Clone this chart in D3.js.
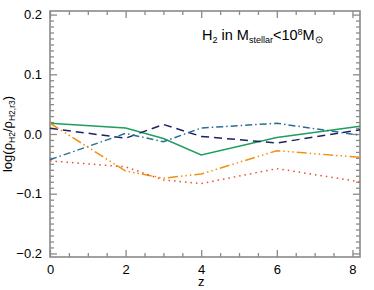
<!DOCTYPE html>
<html>
<head>
<meta charset="utf-8">
<script src="https://cdn.jsdelivr.net/npm/d3@7"></script>
<style>
  body { margin: 0; background: #fff; }
  svg text { font-family: 'Liberation Sans', Arial, sans-serif; fill: #000; }
</style>
</head>
<body>
<div id="chart"></div>
<script>
// redshifts and log ratios
let redshift = [0, 2, 3, 4, 6, 8.2]
let solidGreen = [0.018, 0.010, -0.0075, -0.035, -0.006, 0.013]
let dashedNavy = [0.0095, -0.007, 0.016, -0.004, -0.015, 0.007]
let dashDotTeal = [-0.043, 0.001, -0.013, 0.010, 0.018, -0.002]
let dashDotsOrange = [0.018, -0.062, -0.074, -0.067, -0.028, -0.039]
let dottedRed = [-0.045, -0.055, -0.077, -0.083, -0.058, -0.080]

let xMajor = [0, 2, 4, 6, 8]
let yMajor = [-0.2, -0.1, 0.0, 0.1, 0.2]

let series = [
  { name: 'green', values: solidGreen, color: '#1f9e5c', dash: null },
  { name: 'navy', values: dashedNavy, color: '#1c2262', dash: '8,5' },
  { name: 'teal', values: dashDotTeal, color: '#2a6f8f', dash: '7,3,1.5,3' },
  { name: 'orange', values: dashDotsOrange, color: '#f29015', dash: '10,3,1.5,3,1.5,3,1.5,3' },
  { name: 'red', values: dottedRed, color: '#e5532b', dash: '1.5,4' }
]

let margin = { top: 11, left: 50, right: 14, bottom: 33 }
let width = 374 - margin.left - margin.right
let height = 290 - margin.top - margin.bottom

let svg = d3
  .select('#chart')
  .append('svg')
  .attr('width', 374)
  .attr('height', 290)
  .append('g')
  .attr('transform', 'translate(' + margin.left + ',' + margin.top + ')')

let xPositionScale = d3.scaleLinear().domain([0, 8.2]).range([0, width])
let yPositionScale = d3.scaleLinear().domain([-0.206, 0.206]).range([height, 0])

let xMinor = d3.range(0, 8.21, 0.5).filter(d => xMajor.indexOf(d) === -1)
let yMinor = d3.range(-20, 21, 1).map(d => d / 100).filter(d => Math.round(d * 100) % 10 !== 0)

let axisColor = '#8a8a8a'

function styleAxis(g) {
  g.select('.domain').remove()
  g.selectAll('line').attr('stroke', axisColor).attr('stroke-width', 1.3)
  g.selectAll('text').attr('font-size', 13).attr('fill', '#000')
}

// bottom axis
svg.append('g')
  .attr('transform', 'translate(0,' + height + ')')
  .call(d3.axisBottom(xPositionScale).tickValues(xMajor).tickSizeInner(-7).tickSizeOuter(0).tickPadding(8).tickFormat(d3.format('d')))
  .call(styleAxis)
svg.append('g')
  .attr('transform', 'translate(0,' + height + ')')
  .call(d3.axisBottom(xPositionScale).tickValues(xMinor).tickSizeInner(-4).tickSizeOuter(0).tickFormat(''))
  .call(styleAxis)
// top axis
svg.append('g')
  .call(d3.axisTop(xPositionScale).tickValues(xMajor).tickSizeInner(-7).tickSizeOuter(0).tickFormat(''))
  .call(styleAxis)
svg.append('g')
  .call(d3.axisTop(xPositionScale).tickValues(xMinor).tickSizeInner(-4).tickSizeOuter(0).tickFormat(''))
  .call(styleAxis)
// left axis
svg.append('g')
  .call(d3.axisLeft(yPositionScale).tickValues(yMajor).tickSizeInner(-7).tickSizeOuter(0).tickPadding(8).tickFormat(d3.format('.1f')))
  .call(styleAxis)
svg.append('g')
  .call(d3.axisLeft(yPositionScale).tickValues(yMinor).tickSizeInner(-4).tickSizeOuter(0).tickFormat(''))
  .call(styleAxis)
// right axis
svg.append('g')
  .attr('transform', 'translate(' + width + ',0)')
  .call(d3.axisRight(yPositionScale).tickValues(yMajor).tickSizeInner(-7).tickSizeOuter(0).tickFormat(''))
  .call(styleAxis)
svg.append('g')
  .attr('transform', 'translate(' + width + ',0)')
  .call(d3.axisRight(yPositionScale).tickValues(yMinor).tickSizeInner(-4).tickSizeOuter(0).tickFormat(''))
  .call(styleAxis)

// frame
svg.append('rect')
  .attr('x', 0)
  .attr('y', 0)
  .attr('width', width)
  .attr('height', height)
  .attr('fill', 'none')
  .attr('stroke', axisColor)
  .attr('stroke-width', 1.6)

let line = d3
  .line()
  .x((d, i) => xPositionScale(redshift[i]))
  .y(d => yPositionScale(d))

svg.selectAll('.ratio')
  .data(series)
  .enter()
  .append('path')
  .attr('class', d => 'ratio ' + d.name)
  .attr('d', d => line(d.values))
  .attr('fill', 'none')
  .attr('stroke', d => d.color)
  .attr('stroke-width', 1.5)
  .attr('stroke-dasharray', d => d.dash)

// title inside the panel
let title = svg.append('text')
  .attr('x', 152)
  .attr('y', 29)
  .attr('font-size', 14.5)
title.append('tspan').text('H')
title.append('tspan').attr('font-size', 9).attr('dy', 3).text('2')
title.append('tspan').attr('dy', -3).text(' in M')
title.append('tspan').attr('font-size', 9).attr('dy', 3).text('stellar')
title.append('tspan').attr('dy', -3).text('<10')
title.append('tspan').attr('font-size', 9).attr('dy', -5).text('8')
title.append('tspan').attr('dy', 5).text('M')
title.append('tspan').attr('font-size', 10).attr('dy', 3).text('\u2299')

// axis titles
svg.append('text')
  .attr('x', xPositionScale(4))
  .attr('y', height + 29)
  .attr('text-anchor', 'middle')
  .attr('font-size', 13)
  .text('z')

let yTitle = svg.append('text')
  .attr('transform', 'translate(' + (-38) + ',' + height / 2 + ') rotate(-90)')
  .attr('text-anchor', 'middle')
  .attr('font-size', 13)
yTitle.append('tspan').text('log(\u03c1')
yTitle.append('tspan').attr('font-size', 8.5).attr('dy', 3).text('H2')
yTitle.append('tspan').attr('dy', -3).text('/\u03c1')
yTitle.append('tspan').attr('font-size', 8.5).attr('dy', 3).text('H2,r3')
yTitle.append('tspan').attr('dy', -3).text(')')
</script>
</body>
</html>
